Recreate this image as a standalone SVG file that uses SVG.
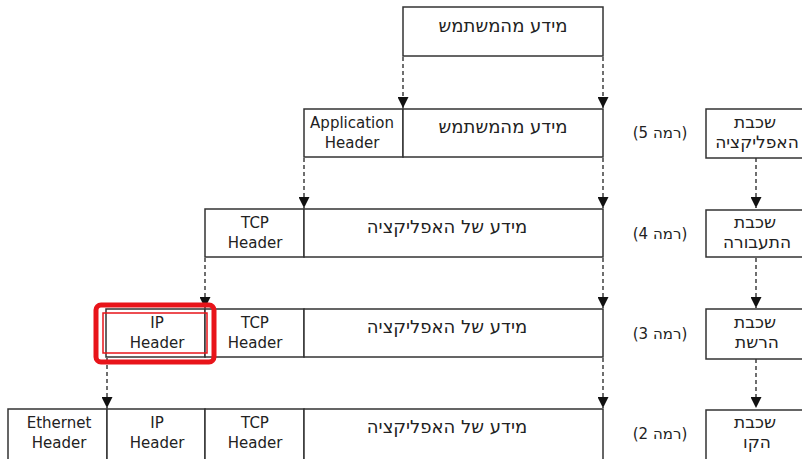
<svg xmlns="http://www.w3.org/2000/svg" width="802" height="459" viewBox="0 0 802 459">
<defs>
<style>
.box{fill:#fff;stroke:#333;stroke-width:1.5}
.t{font-family:"DejaVu Sans",Verdana,sans-serif;font-size:15px;fill:#222;text-anchor:middle}
.he{direction:rtl;unicode-bidi:embed}
.big{font-size:18px}
.mid{font-size:17px}
.lbl{font-size:15px}
.c{fill:none;stroke:#222;stroke-width:1.3;stroke-dasharray:4 3}
</style>
<marker id="ah" viewBox="0 0 10 10" refX="10" refY="5" markerWidth="11" markerHeight="11" markerUnits="userSpaceOnUse" orient="auto">
<path d="M0,0 L10,5 L0,10 z" fill="#111"/>
</marker>
</defs>
<rect width="802" height="459" fill="#fff"/>

<g id="connectors">
<path class="c" d="M403,57 V108" marker-end="url(#ah)"/>
<path class="c" d="M603,57 V108" marker-end="url(#ah)"/>
<path class="c" d="M304,158 V208" marker-end="url(#ah)"/>
<path class="c" d="M603,158 V208" marker-end="url(#ah)"/>
<path class="c" d="M205,258 V308" marker-end="url(#ah)"/>
<path class="c" d="M603,258 V308" marker-end="url(#ah)"/>
<path class="c" d="M107,358 V408" marker-end="url(#ah)"/>
<path class="c" d="M603,358 V408" marker-end="url(#ah)"/>
<path class="c" d="M756,158 V208" marker-end="url(#ah)"/>
<path class="c" d="M756,258 V308" marker-end="url(#ah)"/>
<path class="c" d="M756,359 V408" marker-end="url(#ah)"/>
</g>

<g id="user-data">
<rect class="box" x="403" y="7" width="200" height="49"/>
<text class="t he big" x="503" y="32">מידע מהמשתמש</text>
</g>

<g id="row5">
<rect class="box" x="304" y="109" width="99" height="48"/>
<text class="t" x="352" y="128">Application</text>
<text class="t" x="352" y="148">Header</text>
<rect class="box" x="403" y="109" width="200" height="48"/>
<text class="t he big" x="503" y="133">מידע מהמשתמש</text>
</g>

<g id="row4">
<rect class="box" x="205" y="209" width="99" height="48"/>
<text class="t" x="255" y="228">TCP</text>
<text class="t" x="255" y="248">Header</text>
<rect class="box" x="304" y="209" width="299" height="48"/>
<text class="t he big" x="447" y="233">מידע של האפליקציה</text>
</g>

<g id="row3">
<rect class="box" x="106" y="309" width="99" height="48"/>
<text class="t" x="157" y="328">IP</text>
<text class="t" x="157" y="348">Header</text>
<rect class="box" x="205" y="309" width="99" height="48"/>
<text class="t" x="255" y="328">TCP</text>
<text class="t" x="255" y="348">Header</text>
<rect class="box" x="304" y="309" width="299" height="48"/>
<text class="t he big" x="447" y="333">מידע של האפליקציה</text>
</g>

<g id="row2">
<rect class="box" x="8" y="409" width="99" height="52"/>
<text class="t" x="59" y="428">Ethernet</text>
<text class="t" x="59" y="448">Header</text>
<rect class="box" x="107" y="409" width="98" height="52"/>
<text class="t" x="157" y="428">IP</text>
<text class="t" x="157" y="448">Header</text>
<rect class="box" x="205" y="409" width="99" height="52"/>
<text class="t" x="255" y="428">TCP</text>
<text class="t" x="255" y="448">Header</text>
<rect class="box" x="304" y="409" width="299" height="52"/>
<text class="t he big" x="447" y="433">מידע של האפליקציה</text>
</g>

<g id="highlight">
<rect x="96" y="305" width="118" height="57" rx="5" fill="none" stroke="#e8141a" stroke-width="5"/>
<rect x="103" y="313" width="104" height="40" fill="none" stroke="#e8141a" stroke-width="1.5"/>
</g>

<g id="level5">
<text class="t he lbl" x="660" y="138">(רמה 5)</text>
<rect class="box" x="706" y="109" width="100" height="49"/>
<text class="t he mid" x="755" y="128">שכבת</text>
<text class="t he mid" x="757" y="148">האפליקציה</text>
</g>
<g id="level4">
<text class="t he lbl" x="660" y="239">(רמה 4)</text>
<rect class="box" x="706" y="210" width="100" height="47"/>
<text class="t he mid" x="755" y="228">שכבת</text>
<text class="t he mid" x="757" y="248">התעבורה</text>
</g>
<g id="level3">
<text class="t he lbl" x="660" y="339">(רמה 3)</text>
<rect class="box" x="706" y="309" width="100" height="50"/>
<text class="t he mid" x="755" y="328">שכבת</text>
<text class="t he mid" x="757" y="348">הרשת</text>
</g>
<g id="level2">
<text class="t he lbl" x="660" y="439">(רמה 2)</text>
<rect class="box" x="706" y="410" width="100" height="52"/>
<text class="t he mid" x="755" y="428">שכבת</text>
<text class="t he mid" x="757" y="448">הקו</text>
</g>
</svg>
